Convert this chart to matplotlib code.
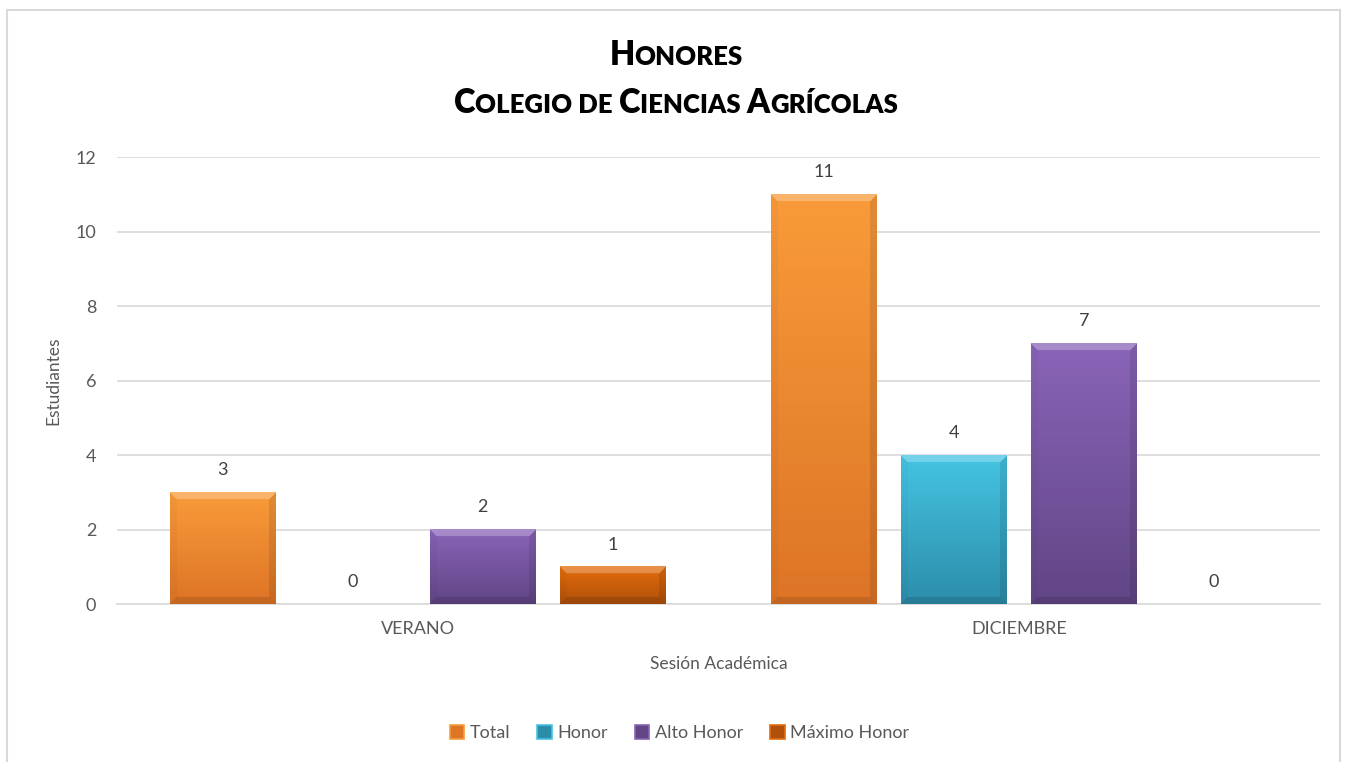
import numpy as np
import matplotlib
matplotlib.use("Agg")
import matplotlib.pyplot as plt
from matplotlib.patches import Patch, Rectangle
from matplotlib.colors import to_rgb

plt.rcParams["font.family"] = ["Lato", "DejaVu Sans"]

categories = ["VERANO", "DICIEMBRE"]
series = ["Total", "Honor", "Alto Honor", "Máximo Honor"]
values = [
    [3, 11],
    [0, 4],
    [2, 7],
    [1, 0],
]
top_colors = ["#F99B3A", "#45C4E3", "#8A64B9", "#E46D0C"]
bottom_colors = ["#DD7426", "#2C8DAA", "#614585", "#B0500A"]

ink = "#595959"
grid = "#D9D9D9"


def bevel_image(h, w, top, bottom, b=7):
    top = np.array(to_rgb(top))
    bottom = np.array(to_rgb(bottom))
    t = np.linspace(0, 1, h)[:, None, None]
    img = top * (1 - t) + bottom * t
    img = np.repeat(img, w, axis=1)
    r = np.arange(h)[:, None]
    c = np.arange(w)[None, :]
    d = np.stack([
        np.broadcast_to(r, (h, w)),
        np.broadcast_to(h - 1 - r, (h, w)),
        np.broadcast_to(c, (h, w)),
        np.broadcast_to(w - 1 - c, (h, w)),
    ])
    side = d.argmin(axis=0)
    inside = d.min(axis=0) < b
    shade = np.zeros((h, w))
    shade[(side == 0) & inside] = 0.25
    shade[(side == 1) & inside] = -0.12
    shade[(side == 2) & inside] = -0.03
    shade[(side == 3) & inside] = -0.10
    out = img.copy()
    pos = shade > 0
    out[pos] = img[pos] + (1 - img[pos]) * shade[pos][:, None]
    neg = shade < 0
    out[neg] = img[neg] * (1 + shade[neg][:, None])
    return np.clip(out, 0, 1)


fig = plt.figure(figsize=(13.48, 7.62), dpi=100)
ax = fig.add_axes([0.0868, 0.2073, 0.8924, 0.5866])

# outer chart border
fig.patches.append(Rectangle((7 / 1348, -0.05), 1333 / 1348, 1.05 - 10 / 762,
                             transform=fig.transFigure, fill=False,
                             edgecolor=grid, linewidth=1.5))

x = np.arange(len(categories))
width = 0.176
step = 0.216

ax.set_xlim(-0.5, 1.5)
ax.set_ylim(0, 12)

for i, name in enumerate(series):
    offset = (i - 1.5) * step
    bars = ax.bar(x + offset, values[i], width, color="none",
                  edgecolor="none", label=name, zorder=3)
    for bar, v in zip(bars, values[i]):
        if v > 0:
            h_px = int(v * 37.25)
            img = bevel_image(h_px, 106, top_colors[i], bottom_colors[i])
            x0 = bar.get_x()
            ax.imshow(img, extent=(x0, x0 + bar.get_width(), 0, bar.get_height()),
                      aspect="auto", zorder=3, interpolation="bilinear")
        ax.annotate(str(v), (bar.get_x() + bar.get_width() / 2, bar.get_height()),
                    xytext=(0, 16), textcoords="offset points",
                    ha="center", va="center", fontsize=13, color="#404040")

ax.set_xlim(-0.5, 1.5)
ax.set_ylim(0, 12)

ax.set_yticks(range(0, 13, 2))
ax.set_xticks(x)
ax.set_xticklabels(categories)
ax.tick_params(axis="both", length=0, labelsize=13, colors=ink)
ax.tick_params(axis="y", pad=15)
ax.tick_params(axis="x", pad=12)
ax.grid(axis="y", color=grid, linewidth=1.2, zorder=0)
ax.set_axisbelow(True)
for s in ["top", "right", "left"]:
    ax.spines[s].set_visible(False)
ax.spines["bottom"].set_color(grid)
ax.spines["bottom"].set_linewidth(1.2)

ax.set_ylabel("Estudiantes", fontsize=12.5, color=ink, labelpad=10)
ax.set_xlabel("Sesión Académica", fontsize=12.5, color=ink, labelpad=14)

handles = [Patch(facecolor=bottom_colors[i], edgecolor=top_colors[i], linewidth=1.2,
                 label=series[i]) for i in range(len(series))]
fig.legend(handles=handles, loc="center", bbox_to_anchor=(0.504, 0.038), ncol=4,
           frameon=False, fontsize=13, handlelength=0.8, handleheight=0.8,
           handletextpad=0.3, columnspacing=1.5, labelcolor=ink)


def small_caps(text, y_px, big=23.5, small=18.5):
    runs = []
    for ch in text:
        size = big if ch.isupper() else small
        if runs and runs[-1][1] == size:
            runs[-1][0] += ch.upper()
        else:
            runs.append([ch.upper(), size])
    renderer = fig.canvas.get_renderer()
    objs = []
    for s, size in runs:
        t = fig.text(0, 1 - y_px / 762, s, fontsize=size, fontweight="heavy",
                     color="black", va="baseline", ha="left")
        objs.append(t)
    widths = [t.get_window_extent(renderer).width for t in objs]
    total = sum(widths)
    cx = 676
    xpos = cx - total / 2
    for t, w in zip(objs, widths):
        t.set_x(xpos / 1348)
        xpos += w


small_caps("Honores", 65)
small_caps("Colegio de Ciencias Agrícolas", 113)

fig.savefig("out.png", dpi=100)
